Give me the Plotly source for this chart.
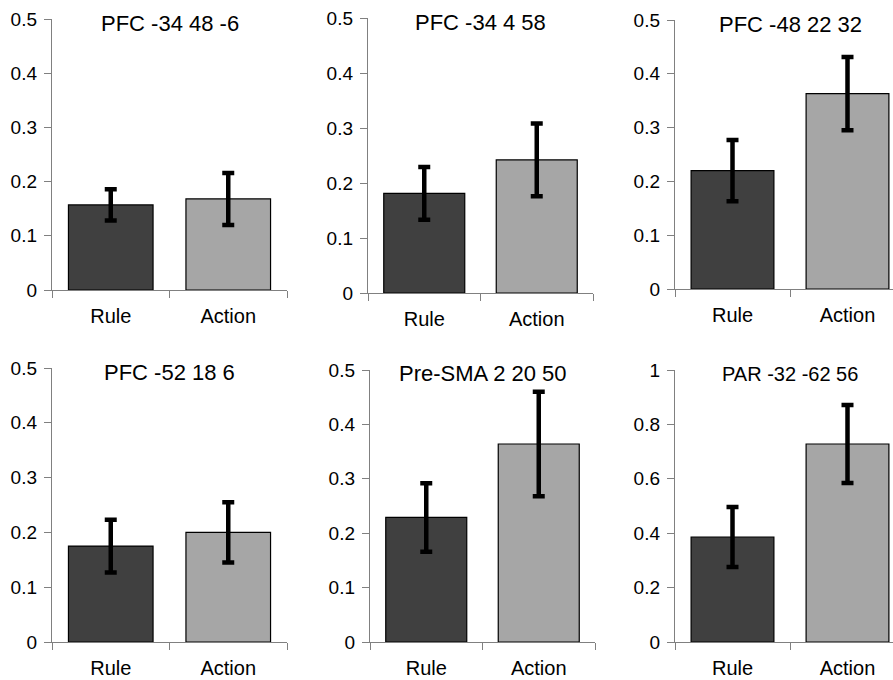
import plotly.graph_objects as go

categories = ["Rule", "Action"]
titles = ["PFC -34 48 -6", "PFC -34 4 58", "PFC -48 22 32",
          "PFC -52 18 6", "Pre-SMA 2 20 50", "PAR -32 -62 56"]
rule_vals = [0.157, 0.181, 0.220, 0.175, 0.229, 0.386]
action_vals = [0.168, 0.242, 0.363, 0.200, 0.364, 0.728]
rule_err = [0.029, 0.048, 0.057, 0.048, 0.063, 0.110]
action_err = [0.048, 0.066, 0.068, 0.055, 0.096, 0.143]
y_max = [0.5, 0.5, 0.5, 0.5, 0.5, 1.0]
y_dtick = [0.1, 0.1, 0.1, 0.1, 0.1, 0.2]

W, H = 893, 680
# pixel boxes (left, right, top, bottom) for each panel
boxes = [(52, 287, 19, 290), (368, 593, 18, 293), (675, 905, 20, 289),
         (52, 287, 368, 642), (370, 595, 370, 642), (675, 905, 370, 642)]

fig = go.Figure()
FONT = "Liberation Sans, Arial, sans-serif"
AX = "#808080"

for i in range(6):
    l, r, t, b = boxes[i]
    xr = [-0.5, 1.5]
    if r > W:
        frac = (W - l) / (r - l)
        xr = [-0.5, -0.5 + 2 * frac]
        r = W
    sfx = "" if i == 0 else str(i + 1)
    fig.add_trace(go.Bar(
        x=categories, y=[rule_vals[i], action_vals[i]],
        marker=dict(color=["#404040", "#a6a6a6"], line=dict(color="#000", width=1.2)),
        width=0.72,
        error_y=dict(type="data", array=[rule_err[i], action_err[i]],
                     color="#000", thickness=4.5, width=6),
        xaxis="x" + sfx, yaxis="y" + sfx, showlegend=False))
    fig.layout["xaxis" + sfx] = dict(
        domain=[l / W, r / W], anchor="y" + sfx, range=xr, automargin=False,
        type="category", tickson="boundaries", ticks="outside", ticklen=7,
        tickcolor=AX, showline=True, linecolor=AX, linewidth=1.2,
        showgrid=False, zeroline=False, fixedrange=True,
        tickfont=dict(family=FONT, size=20, color="#000"), ticklabelstandoff=8)
    fig.layout["yaxis" + sfx] = dict(
        domain=[1 - b / H, 1 - t / H], anchor="x" + sfx, automargin=False,
        range=[0, y_max[i]], dtick=y_dtick[i], tick0=0,
        ticks="outside", ticklen=7, tickcolor=AX, showline=True, linecolor=AX,
        linewidth=1.2, showgrid=False, zeroline=False, fixedrange=True,
        tickformat="~g", ticklabelstandoff=3,
        tickfont=dict(family=FONT, size=19, color="#000"))
    fig.add_annotation(text=titles[i], x=0.5, xref="x" + sfx,
                       y=1, yref="y" + sfx + " domain", yanchor="middle",
                       yshift=-4, showarrow=False,
                       font=dict(family=FONT, size=20 if i == 5 else 22, color="#000"))

fig.update_layout(width=W, height=H, margin=dict(l=0, r=0, t=0, b=0),
                  paper_bgcolor="white", plot_bgcolor="white", bargap=0.28,
                  hovermode=False)
fig.write_html("out.html", config={"displayModeBar": False, "staticPlot": True},
               post_script="document.body.style.margin='0';document.body.style.overflow='hidden';")
